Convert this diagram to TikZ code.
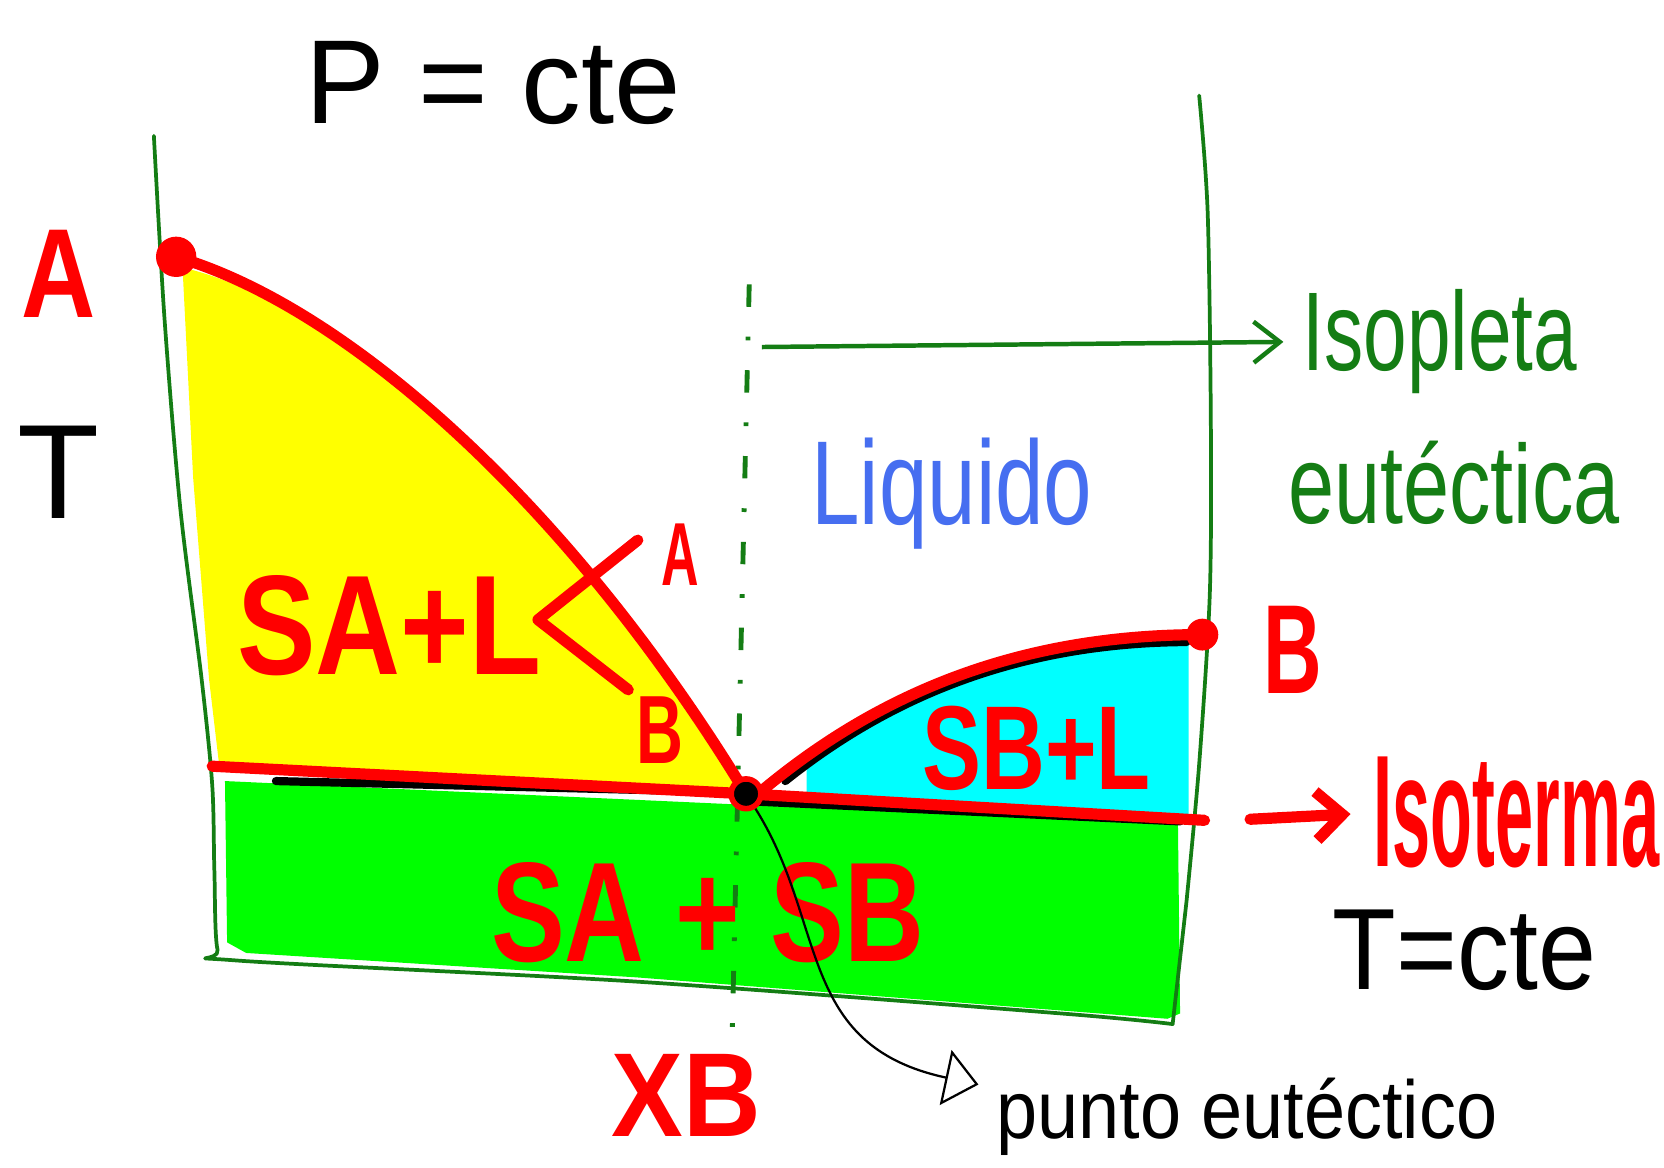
\documentclass[tikz,border=0pt]{standalone}
\usepackage{fontspec}
\setmainfont{Liberation Sans}
\usepackage{graphicx}
\usetikzlibrary{arrows.meta}

\definecolor{axisgreen}{RGB}{20,125,20}
\definecolor{liqblue}{RGB}{70,110,240}
\definecolor{penred}{RGB}{255,0,0}
\definecolor{fillgreen}{RGB}{0,255,0}
\definecolor{fillcyan}{RGB}{0,255,255}
\definecolor{fillyellow}{RGB}{255,255,0}

\tikzset{
  frame/.style={draw=axisgreen, line width=1pt, line join=round, line cap=round},
  curve/.style={draw=penred, line width=3pt, line cap=round, line join=round},
  under/.style={draw=black, line width=2.2pt, line cap=round},
  redlbl/.style={text=penred, font=\bfseries\fontsize{#1}{#1}\selectfont, inner sep=0pt},
  inklbl/.style={font=\fontsize{#1}{#1}\selectfont, inner sep=0pt},
  bigdot/.style={circle, fill=penred, inner sep=0pt, minimum size=#1},
}

\begin{document}
\begin{tikzpicture}[x=0.01cm, y=-0.01cm]
\useasboundingbox (0,0) rectangle (1568,1100);

\coordinate (eut) at (703,748);
\coordinate (solL) at (200,722);
\coordinate (solR) at (1135,773);

% fases
\fill[fillgreen] (212,736) -- (1110,777) -- (1112,955) -- (1100,960) -- (600,921) -- (232,898) -- (214,888) -- cycle;
\fill[fillyellow] (172,252) .. controls (330,290) and (540,480) .. (eut) -- (207,725) -- (197,640) -- (182,450) -- cycle;
\begin{scope}
  \clip (760,0) rectangle (1120,800);
  \fill[fillcyan] (718,745) .. controls (820,660) and (950,598) .. (1135,598) -- (solR) -- (eut) -- cycle;
\end{scope}

\draw[frame] plot[smooth, tension=0.5] coordinates {(145,128) (155,300) (170,480) (190,640) (200,740) (202,820) (205,895) (222,905) (600,925) (1000,955) (1105,965)}
  -- plot[smooth] coordinates {(1118,850) (1130,720) (1140,560) (1141,400) (1138,200) (1130,90)};

\draw[axisgreen, line width=1.3pt, dash pattern=on 6pt off 8pt on 1pt off 8pt] (706,268) -- (690,972);

\draw[under] (260,736) -- (630,745);
\draw[under] (705,755) -- (1112,774);
\draw[under] (740,736) .. controls (830,664) and (950,606) .. (1118,605);

\node[bigdot=0.38cm] (ptA) at (166,242) {};
\node[bigdot=0.3cm] (ptB) at (1133,598) {};

\draw[curve] (ptA.center) .. controls (330,290) and (540,480) .. (eut);
\draw[curve] (718,745) .. controls (820,660) and (950,598) .. (ptB.center);
\draw[curve] (solL) -- (eut) -- (solR);
\draw[curve] (601,509) -- (507,584) -- (592,650);

\node[circle, fill=black, draw=penred, line width=1.5pt, inner sep=0pt, minimum size=0.28cm] (E) at (eut) {};

\foreach \nm/\x/\y/\fs/\sc/\txt in {
    lblA/55/258/34/0.81/A,
    lblSAL/367/590/38/0.83/SA+L,
    tieA/641/523/24/0.58/A,
    tieB/622/688/26/0.67/B,
    lblSBL/977/705/32/0.74/SB+L,
    lblB/1218/612/34/0.64/B,
    lblSS/667/860/38/0.78/SA + SB,
    lblXB/647/1032/32/0.9/XB,
    isot/1429/766/42.7/0.43/Isoterma%
    }{
    \node[redlbl=\fs] (\nm) at (\x,\y) {\scalebox{\sc}[1]{\txt}};
}

\node[inklbl=32] (pcte) at (465,78) {P = cte};
\node[inklbl=36] (Tax) at (55,445) {T};
\node[inklbl=31] (Tcte) at (1380,895) {\scalebox{0.9}[1]{T=cte}};
\node[inklbl=22] (pe) at (1175,1052) {\scalebox{0.9}[1]{punto eutéctico}};
\node[inklbl=30, text=axisgreen] (isopl) at (1357,322) {\scalebox{0.7}[1]{Isopleta}};
\node[inklbl=30, text=axisgreen] (eutec) at (1370,455) {\scalebox{0.74}[1]{eutéctica}};
\node[inklbl=32, text=liqblue] (liq) at (897,465) {\scalebox{0.73}[1]{Liquido}};

\coordinate (isoStart) at (718,327);
\coordinate (isoT) at (1178,772);
\coordinate (peTip) at (922,1022);

\draw[axisgreen, line width=1.2pt, -{Straight Barb[length=7pt,width=11pt]}, shorten >=5pt] (isoStart) -- (isopl.west);
\draw[curve, -{Straight Barb[length=7pt,width=13pt]}, shorten >=6pt] (isoT) -- (isot.west);
\draw[black, line width=0.6pt, -{Triangle[open,length=9pt,width=15pt]}] (E) .. controls (780,870) and (750,985) .. (peTip);

\end{tikzpicture}
\end{document}
